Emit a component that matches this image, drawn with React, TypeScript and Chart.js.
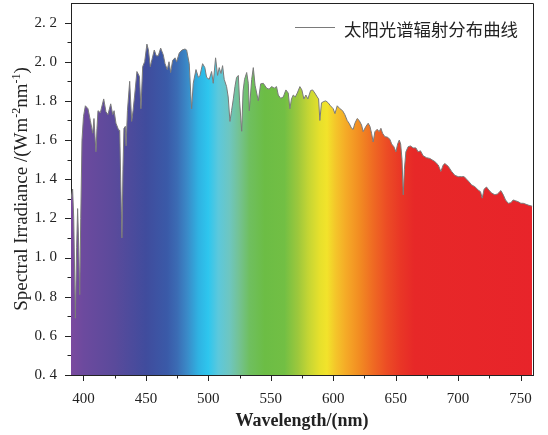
import React, { useEffect, useRef } from 'react';
import { Chart, registerables } from 'chart.js';

Chart.register(...registerables);

// ---- data ----
const wavelengths = [
  390, 391.3, 392.2, 393.5, 394.5, 395.3, 396.0, 397.0, 397.8, 398.8,
  400.0, 401.5, 403.6, 405.5, 407.4, 408.4, 409.2, 410.0, 410.8, 411.6,
  413.5, 416.2, 418.0, 419.6, 421.8, 423.4, 424.5, 426.0, 428.2, 429.0,
  429.8, 430.8, 431.6, 432.4, 433.5, 434.1, 435.2, 437.0, 438.6, 439.7,
  441.0, 442.8, 444.8, 446.0, 447.4, 449.0, 450.8, 452.0, 453.5, 454.8,
  456.7, 458.3, 459.9, 461.8, 463.9, 465.3, 467.1, 468.5, 469.8, 471.4,
  473.3, 474.6, 476.7, 478.9, 481.3, 482.6, 484.7, 485.8, 486.6, 487.9,
  490.1, 492.0, 493.3, 495.4, 497.2, 498.6, 500.7, 502.6, 503.9, 505.8,
  507.4, 508.7, 510.1, 511.4, 512.7, 514.6, 515.9, 517.3, 518.6, 520.0,
  521.3, 522.6, 524.0, 525.0, 526.7, 527.8, 529.0, 530.7, 532.0, 532.8,
  534.7, 536.0, 537.4, 538.7, 540.0, 541.9, 544.0, 546.7, 548.6, 550.7,
  552.8, 554.6, 556.0, 557.9, 560.0, 562.1, 564.0, 565.3, 566.6, 568.0,
  569.6, 571.2, 573.3, 574.9, 576.5, 578.1, 579.7, 581.9, 583.5, 585.3,
  587.2, 588.3, 589.3, 590.6, 592.5, 594.1, 596.0, 597.8, 600.0, 601.4,
  603.2, 605.4, 607.5, 609.3, 611.2, 612.8, 614.7, 616.0, 617.3, 619.2,
  620.8, 622.7, 624.0, 626.2, 628.0, 629.4, 630.7, 632.0, 633.4, 635.2,
  636.8, 638.2, 639.5, 641.4, 643.3, 645.4, 646.8, 648.6, 650.2, 651.6,
  652.9, 654.0, 655.1, 656.1, 657.0, 658.2, 660.0, 661.9, 664.0, 666.2,
  668.0, 669.9, 672.0, 674.7, 677.4, 681.4, 684.1, 686.2, 688.1, 689.4,
  692.1, 694.8, 697.4, 700.1, 702.8, 704.9, 706.8, 708.6, 710.8, 713.4,
  716.1, 718.0, 719.3, 720.9, 722.8, 724.6, 726.8, 729.5, 731.6, 734.3,
  736.2, 738.0, 740.2, 742.3, 744.1, 746.0, 748.2, 750.3, 752.2, 754.0,
  756.1, 758.3, 759.3,
];

const irradiance = [
  1.30, 1.35, 1.20, 0.69, 1.05, 1.25, 1.10, 0.81, 1.20, 1.60,
  1.72, 1.775, 1.76, 1.70, 1.635, 1.71, 1.62, 1.54, 1.66, 1.75,
  1.74, 1.81, 1.745, 1.73, 1.785, 1.73, 1.75, 1.686, 1.65, 1.65,
  1.40, 1.10, 1.45, 1.66, 1.67, 1.57, 1.75, 1.90, 1.695, 1.75,
  1.83, 1.95, 1.925, 1.76, 1.975, 2.00, 2.09, 2.06, 1.975, 2.01,
  2.06, 2.03, 2.03, 2.07, 2.035, 1.99, 1.96, 2.00, 1.945, 2.007,
  2.02, 2.00, 2.045, 2.06, 2.065, 2.06, 1.99, 1.85, 1.76, 1.89,
  1.96, 1.92, 1.93, 1.99, 1.97, 1.92, 1.91, 1.95, 1.89, 2.02,
  1.93, 1.97, 1.94, 1.98, 1.91, 1.873, 1.82, 1.695, 1.75, 1.81,
  1.873, 1.92, 1.93, 1.80, 1.645, 1.85, 1.91, 1.945, 1.89, 1.75,
  1.91, 1.97, 1.88, 1.84, 1.80, 1.887, 1.89, 1.865, 1.86, 1.873,
  1.865, 1.873, 1.83, 1.813, 1.82, 1.856, 1.84, 1.76, 1.81, 1.83,
  1.82, 1.84, 1.873, 1.856, 1.81, 1.83, 1.81, 1.853, 1.856, 1.84,
  1.82, 1.81, 1.70, 1.79, 1.797, 1.80, 1.79, 1.775, 1.76, 1.735,
  1.775, 1.76, 1.75, 1.73, 1.70, 1.685, 1.66, 1.655, 1.685, 1.71,
  1.70, 1.677, 1.643, 1.67, 1.686, 1.67, 1.635, 1.59, 1.643, 1.655,
  1.643, 1.66, 1.635, 1.617, 1.615, 1.604, 1.58, 1.566, 1.54, 1.58,
  1.60, 1.58, 1.50, 1.32, 1.45, 1.54, 1.566, 1.57, 1.56, 1.56,
  1.54, 1.545, 1.52, 1.51, 1.506, 1.49, 1.473, 1.44, 1.473, 1.48,
  1.466, 1.44, 1.42, 1.413, 1.413, 1.413, 1.40, 1.388, 1.371, 1.362,
  1.345, 1.336, 1.303, 1.35, 1.36, 1.345, 1.33, 1.32, 1.325, 1.342,
  1.32, 1.294, 1.277, 1.28, 1.294, 1.29, 1.285, 1.277, 1.277, 1.273,
  1.268, 1.264, 1.262,
];

const seriesLabel = '太阳光谱辐射分布曲线';
const xMajorTicks = [400, 450, 500, 550, 600, 650, 700, 750];
const xMinorTicks = [425, 475, 525, 575, 625, 675, 725];
const yMajorTicks = [0.4, 0.6, 0.8, 1.0, 1.2, 1.4, 1.6, 1.8, 2.0, 2.2];
const yMinorTicks = [0.5, 0.7, 0.9, 1.1, 1.3, 1.5, 1.7, 1.9, 2.1];

// spectrum colour stops (wavelength in nm -> colour)
const spectrumNm = [388, 400, 425, 450, 467, 475, 483, 492, 500, 508, 517, 525, 533, 545, 561, 572, 580, 589, 595, 602, 610, 621, 632, 643, 654, 665, 760];
const spectrumColors = [
  '#7b4a9f', '#6c4a9e', '#5a4a9b', '#404c9d', '#3a5aa8', '#3b6cb4', '#3a8ac8', '#2fb2e2', '#2ec6ee',
  '#5cc8dc', '#6ec6c0', '#74c291', '#6fbf5f', '#6cbd45', '#72bf44', '#9ec83c', '#c4d534', '#e6e02c',
  '#f2e32b', '#f4c52a', '#f5ab27', '#f28c22', '#ef6a23', '#ec4c25', '#e93626', '#e72828', '#e8242a',
];

const SERIF = "'Liberation Serif', 'Times New Roman', serif";
const CJK = "'Noto Sans CJK SC', sans-serif";
const INK = '#222';

const decorPlugin = {
  id: 'decor',
  afterDraw(chart: any) {
    const { ctx, chartArea: a, scales } = chart;
    const xs = scales.x;
    const ys = scales.y;
    ctx.save();
    ctx.strokeStyle = INK;
    ctx.lineWidth = 1;
    // frame top and right
    ctx.beginPath();
    ctx.moveTo(a.left, a.top + 0.5);
    ctx.lineTo(a.right + 0.5, a.top + 0.5);
    ctx.lineTo(a.right + 0.5, a.bottom);
    ctx.stroke();
    // ticks
    ctx.beginPath();
    xMajorTicks.forEach((v) => {
      const p = Math.round(xs.getPixelForValue(v)) + 0.5;
      ctx.moveTo(p, a.bottom);
      ctx.lineTo(p, a.bottom + 6);
    });
    xMinorTicks.forEach((v) => {
      const p = Math.round(xs.getPixelForValue(v)) + 0.5;
      ctx.moveTo(p, a.bottom);
      ctx.lineTo(p, a.bottom + 3.5);
    });
    yMajorTicks.forEach((v) => {
      const p = Math.round(ys.getPixelForValue(v)) + 0.5;
      ctx.moveTo(a.left, p);
      ctx.lineTo(a.left - 6, p);
    });
    yMinorTicks.forEach((v) => {
      const p = Math.round(ys.getPixelForValue(v)) + 0.5;
      ctx.moveTo(a.left, p);
      ctx.lineTo(a.left - 3.5, p);
    });
    ctx.stroke();

    // y-axis title with superscripts
    const big = `19px ${SERIF}`;
    const small = `12px ${SERIF}`;
    const parts: [string, boolean][] = [
      ['Spectral Irradiance /(Wm', false],
      ['-2', true],
      ['nm', false],
      ['-1', true],
      [')', false],
    ];
    let total = 0;
    const widths = parts.map(([t, sup]) => {
      ctx.font = sup ? small : big;
      const w = ctx.measureText(t).width;
      total += w;
      return w;
    });
    ctx.translate(27, (a.top + a.bottom) / 2);
    ctx.rotate(-Math.PI / 2);
    ctx.fillStyle = INK;
    ctx.textBaseline = 'alphabetic';
    ctx.textAlign = 'left';
    let cx = -total / 2;
    parts.forEach(([t, sup], i) => {
      ctx.font = sup ? small : big;
      ctx.fillText(t, cx, sup ? -7 : 0);
      cx += widths[i];
    });
    ctx.setTransform(1, 0, 0, 1, 0, 0);

    // legend
    const ds = chart.data.datasets[0];
    ctx.strokeStyle = ds.borderColor;
    ctx.lineWidth = 1;
    ctx.beginPath();
    ctx.moveTo(295, 27.5);
    ctx.lineTo(335, 27.5);
    ctx.stroke();
    ctx.fillStyle = INK;
    ctx.font = `17.4px ${CJK}`;
    ctx.textBaseline = 'middle';
    ctx.textAlign = 'left';
    ctx.fillText(ds.label, 344, 29);
    ctx.restore();
  },
};

const zeroPad = (s: any) => {
  s.paddingTop = 0;
  s.paddingBottom = 0;
  s.paddingLeft = 0;
  s.paddingRight = 0;
};

export default function App() {
  const ref = useRef<HTMLCanvasElement | null>(null);

  useEffect(() => {
    if (!ref.current) return;
    const chart = new Chart(ref.current, {
      type: 'line',
      data: {
        datasets: [
          {
            label: seriesLabel,
            data: wavelengths.map((w, i) => ({ x: w, y: irradiance[i] })),
            borderColor: '#7a7a7a',
            borderWidth: 1,
            pointRadius: 0,
            tension: 0,
            fill: 'start',
            backgroundColor: (context: any) => {
              const c = context.chart;
              const area = c.chartArea;
              const xs = c.scales.x;
              if (!area || !xs) return '#888';
              const g = c.ctx.createLinearGradient(area.left, 0, area.right, 0);
              spectrumNm.forEach((nm, i) => {
                const t = (xs.getPixelForValue(nm) - area.left) / (area.right - area.left);
                g.addColorStop(Math.min(1, Math.max(0, t)), spectrumColors[i]);
              });
              return g;
            },
          },
        ],
      },
      options: {
        responsive: false,
        animation: false,
        layout: { padding: { left: 0, right: 15, top: 3, bottom: 0 } },
        plugins: {
          legend: { display: false },
          tooltip: { enabled: false },
        },
        scales: {
          x: {
            type: 'linear',
            min: 390,
            max: 760,
            afterBuildTicks: (s: any) => {
              s.ticks = xMajorTicks.map((v) => ({ value: v }));
            },
            afterFit: (s: any) => {
              s.height = 60;
              zeroPad(s);
            },
            grid: { display: false, drawTicks: false },
            border: { display: true, color: INK, width: 1 },
            ticks: {
              autoSkip: false,
              maxRotation: 0,
              padding: 15,
              color: INK,
              font: { family: SERIF, size: 15 },
            },
            title: {
              display: true,
              text: 'Wavelength/(nm)',
              color: INK,
              font: { family: SERIF, size: 18, weight: 'bold' },
              padding: { top: 0, bottom: 3 },
            },
          },
          y: {
            type: 'linear',
            min: 0.4,
            max: 2.3,
            afterBuildTicks: (s: any) => {
              s.ticks = yMajorTicks.map((v) => ({ value: v }));
            },
            afterFit: (s: any) => {
              s.width = 71;
              zeroPad(s);
            },
            grid: { display: false, drawTicks: false },
            border: { display: true, color: INK, width: 1 },
            ticks: {
              padding: 14,
              color: INK,
              font: { family: SERIF, size: 15 },
              callback: (v: any) => Number(v).toFixed(1).replace('.', '. '),
            },
          },
        },
      },
      plugins: [decorPlugin],
    });
    return () => chart.destroy();
  }, []);

  return (
    <div style={{ position: 'absolute', left: 0, top: 0, width: 548, height: 435, background: '#fff' }}>
      <canvas ref={ref} width={548} height={435} style={{ width: 548, height: 435, display: 'block' }} />
    </div>
  );
}
